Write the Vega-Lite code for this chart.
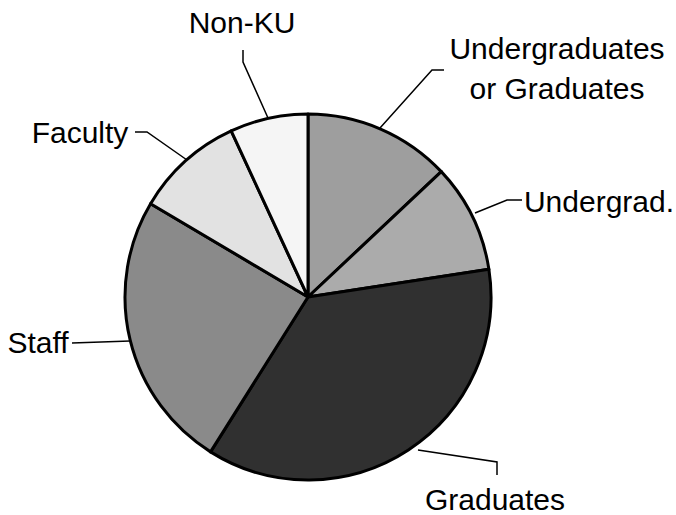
{
  "$schema": "https://vega.github.io/schema/vega-lite/v6.json",
  "width": 676,
  "height": 515,
  "padding": 0,
  "autosize": {"type": "none"},
  "background": "white",
  "config": {"view": {"stroke": null}},
  "datasets": {
    "slices": [
      {"group": "Undergraduates or Graduates", "value": 13.0, "order": 1, "cx": 0, "cy": 0},
      {"group": "Undergrad.", "value": 9.6, "order": 2, "cx": 0, "cy": 0},
      {"group": "Graduates", "value": 36.4, "order": 3, "cx": 0, "cy": 0},
      {"group": "Staff", "value": 24.6, "order": 4, "cx": 0, "cy": 0},
      {"group": "Faculty", "value": 9.6, "order": 5, "cx": 0, "cy": 0},
      {"group": "Non-KU", "value": 6.9, "order": 6, "cx": 0, "cy": 0}
    ],
    "leaders": [
      {"group": "Undergraduates or Graduates", "seq": 1, "x": 136, "y": 227},
      {"group": "Undergraduates or Graduates", "seq": 2, "x": 124, "y": 227},
      {"group": "Undergraduates or Graduates", "seq": 3, "x": 72, "y": 169},
      {"group": "Undergrad.", "seq": 1, "x": 214, "y": 97},
      {"group": "Undergrad.", "seq": 2, "x": 199, "y": 97},
      {"group": "Undergrad.", "seq": 3, "x": 167, "y": 84},
      {"group": "Graduates", "seq": 1, "x": 189, "y": -178},
      {"group": "Graduates", "seq": 2, "x": 189, "y": -165},
      {"group": "Graduates", "seq": 3, "x": 110, "y": -153},
      {"group": "Staff", "seq": 1, "x": -236, "y": -46},
      {"group": "Staff", "seq": 2, "x": -178, "y": -44},
      {"group": "Faculty", "seq": 1, "x": -173, "y": 165},
      {"group": "Faculty", "seq": 2, "x": -161, "y": 165},
      {"group": "Faculty", "seq": 3, "x": -121, "y": 137},
      {"group": "Non-KU", "seq": 1, "x": -65, "y": 247},
      {"group": "Non-KU", "seq": 2, "x": -65, "y": 235},
      {"group": "Non-KU", "seq": 3, "x": -40, "y": 179}
    ],
    "labels": [
      {"label": "Undergraduates\nor Graduates", "x": 249, "y": 238},
      {"label": "Undergrad.", "x": 291, "y": 85},
      {"label": "Graduates", "x": 187, "y": -213},
      {"label": "Staff", "x": -270, "y": -56},
      {"label": "Faculty", "x": -228, "y": 154},
      {"label": "Non-KU", "x": -66, "y": 264}
    ]
  },
  "layer": [
    {
      "data": {"name": "slices"},
      "mark": {"type": "arc", "radius": 183, "stroke": "black", "strokeWidth": 3, "strokeJoin": "round"},
      "encoding": {
        "x": {"field": "cx", "type": "quantitative", "scale": {"domain": [-308, 368], "nice": false, "zero": false}, "axis": null},
        "y": {"field": "cy", "type": "quantitative", "scale": {"domain": [-218, 297], "nice": false, "zero": false}, "axis": null},
        "theta": {"field": "value", "type": "quantitative", "stack": true},
        "order": {"field": "order", "type": "quantitative"},
        "color": {
          "field": "group",
          "type": "nominal",
          "legend": null,
          "scale": {
            "domain": ["Undergraduates or Graduates", "Undergrad.", "Graduates", "Staff", "Faculty", "Non-KU"],
            "range": ["#9e9e9e", "#ababab", "#303030", "#8a8a8a", "#e2e2e2", "#f5f5f5"]
          }
        }
      }
    },
    {
      "data": {"name": "leaders"},
      "mark": {"type": "line", "color": "black", "strokeWidth": 1.5},
      "encoding": {
        "x": {"field": "x", "type": "quantitative"},
        "y": {"field": "y", "type": "quantitative"},
        "detail": {"field": "group"},
        "order": {"field": "seq", "type": "quantitative"}
      }
    },
    {
      "data": {"name": "labels"},
      "mark": {"type": "text", "align": "center", "baseline": "alphabetic", "font": "Liberation Sans", "fontSize": 30, "color": "black", "lineBreak": "\n", "lineHeight": 40},
      "encoding": {
        "x": {"field": "x", "type": "quantitative"},
        "y": {"field": "y", "type": "quantitative"},
        "text": {"field": "label"}
      }
    }
  ]
}
